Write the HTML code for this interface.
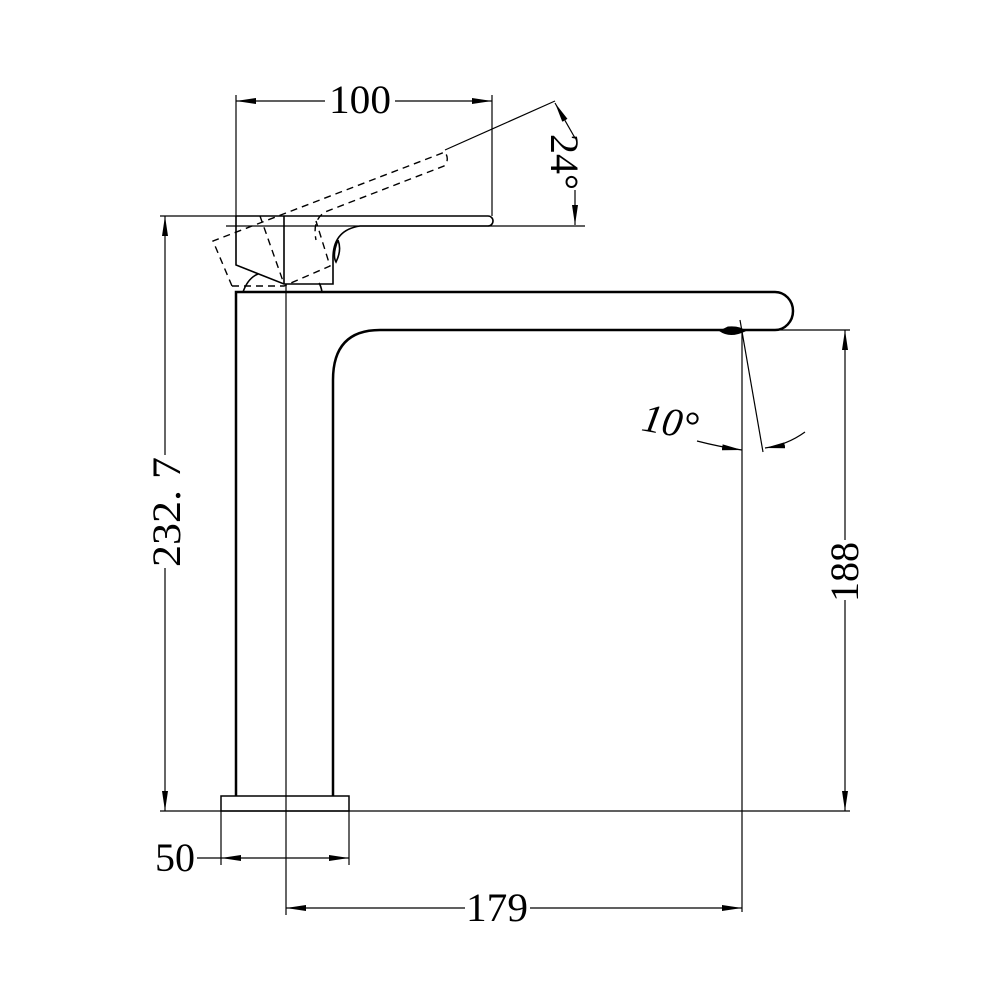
<!DOCTYPE html>
<html><head><style>body{margin:0;background:#fff}svg{display:block}</style></head><body>
<svg width="1000" height="1000" viewBox="0 0 1000 1000" xmlns="http://www.w3.org/2000/svg" font-family="Liberation Serif, serif">
<defs><marker id="a" viewBox="0 0 20 6" refX="20" refY="3" markerWidth="20" markerHeight="6" markerUnits="userSpaceOnUse" orient="auto"><path d="M0 0L20 3L0 6z" fill="#000"/></marker></defs>
<g fill="none" stroke="#000">
<g stroke-width="2.5">
<path d="M236 796V292H775A18 19 0 0 1 775 330H380Q333 330 333 380V796"/>
<rect x="221" y="796" width="128" height="15" stroke-width="1.5"/>
</g>
<path d="M720 331Q730 338 745 331Q740 326 728 327Z" fill="#000" stroke-width="1"/>
<g stroke-width="1.6">
<path d="M236 216H488A5 5 0 0 1 488 226H360Q333 230 333 258V284H284L236 265V216"/>
<path d="M284 216V284"/>
<path d="M243 292Q248 278 258 274M322 292Q321 286 319 283"/>
<path d="M338 240Q332 255 336 262Q342 250 338 240"/>
</g>
<g stroke-width="1.4" stroke-dasharray="7,5">
<path d="M232 286H284L330 266L316 221"/>
<path d="M232 286L213 241L445 152Q450 160 444 166L325 212Q312 220 316 240"/>
<path d="M260 216L284 284"/>
</g>
<g stroke-width="1.2">
<path d="M236 95V216M492 95V216M160 216H236M226 226H585M160 811H850M740 330H850M286 284V915M742 330V912M221 811V865M349 811V865"/>
<path d="M325 101H236" marker-end="url(#a)"/><path d="M395 101H492" marker-end="url(#a)"/>
<path d="M445 150L555 101"/>
<path d="M575 138L555 103" marker-end="url(#a)"/><path d="M575 190V225" marker-end="url(#a)"/>
<path d="M165 455V216" marker-end="url(#a)"/><path d="M165 568V811" marker-end="url(#a)"/>
<path d="M845 540V330" marker-end="url(#a)"/><path d="M845 600V811" marker-end="url(#a)"/>
<path d="M740 320L763 452"/>
<path d="M697 441Q720 447 742 450" marker-end="url(#a)"/>
<path d="M805 432Q787 445 765 448" marker-end="url(#a)"/>
<path d="M197 858H221M286 858H221" marker-end="url(#a)"/><path d="M286 858H349" marker-end="url(#a)"/>
<path d="M465 908H286" marker-end="url(#a)"/><path d="M530 908H742" marker-end="url(#a)"/>
</g>
</g>
<g fill="#000" font-size="40">
<text x="360" y="113" text-anchor="middle" textLength="62" lengthAdjust="spacingAndGlyphs">100</text>
<text x="497" y="921" text-anchor="middle" textLength="62" lengthAdjust="spacingAndGlyphs">179</text>
<text x="175" y="871" text-anchor="middle">50</text>
<text transform="translate(180,512) rotate(-90)" text-anchor="middle" textLength="110" lengthAdjust="spacingAndGlyphs">232. 7</text>
<text transform="translate(858,572) rotate(-90)" text-anchor="middle">188</text>
<text transform="translate(551,162) rotate(90)" text-anchor="middle">24°</text>
<text transform="translate(668,435) rotate(10)" text-anchor="middle" font-style="italic">10°</text>
</g>
</svg>
</body></html>
